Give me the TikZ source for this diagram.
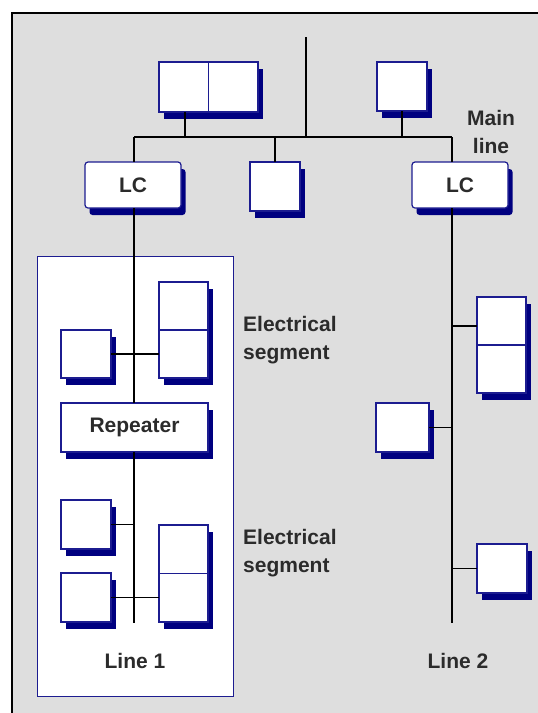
\documentclass[tikz,border=0pt]{standalone}
\usepackage{fontspec}
\setmainfont{Liberation Sans}
\usetikzlibrary{shadows,calc}
\definecolor{bg}{HTML}{DEDEDE}
\definecolor{navyb}{HTML}{000080}
\definecolor{edgeb}{HTML}{1C1C90}
\definecolor{txt}{HTML}{2B2B2B}
\tikzset{
  dev/.style={draw=edgeb, line width=1.2pt, fill=white, inner sep=0pt, outer sep=0pt,
    anchor=north west,
    drop shadow={shadow xshift=4.5pt, shadow yshift=-7pt, fill=navyb, opacity=1}},
  sq/.style={dev, minimum width=50pt, minimum height=49pt},
  vdbl/.style={dev, minimum width=49pt, minimum height=96pt},
  lcbox/.style={dev, rounded corners=3pt, minimum width=96pt, minimum height=46pt, lbl},
  lbl/.style={text=txt, font=\fontsize{21}{28}\selectfont\bfseries, inner sep=0pt},
  wire/.style={draw=black, line width=1.6pt},
  divider/.style={draw=edgeb, line width=1.2pt},
}
\begin{document}
\begin{tikzpicture}[x=1pt, y=-1pt]
\useasboundingbox (0,0) rectangle (538,713);
\clip (0,0) rectangle (538,713);
% frame
\draw[fill=bg, line width=1.6pt] (12,13) rectangle (570,750);
% line 1 container
\node[draw=edgeb, line width=1.2pt, fill=white, anchor=north west, inner sep=0pt,
      minimum width=196pt, minimum height=440pt] (l1box) at (37,256) {};

% main line devices
\node[dev, minimum width=99pt, minimum height=50pt] (td) at (159,62) {};
\draw[divider] (td.north) -- (td.south);
\node[sq] (ts) at (377,62) {};
\node[lcbox] (lc1) at (85,162) {LC};
\node[sq] (ms) at (250,162) {};
\node[lcbox] (lc2) at (412,162) {LC};

% line 1 devices
\node[vdbl] (ud) at (159,282) {};
\draw[divider] (ud.west) -- (ud.east);
\node[sq, minimum height=48pt] (us) at (61,330) {};
\node[dev, minimum width=147pt, minimum height=49pt, lbl] (rep) at (61,403) {Repeater};
\node[sq] (ls1) at (61,500) {};
\node[sq] (ls2) at (61,573) {};
\node[vdbl, minimum height=97pt] (ld) at (159,525) {};
\draw[divider] (ld.west) -- (ld.east);

% line 2 devices
\node[vdbl] (rd) at (477,297) {};
\draw[divider] (rd.west) -- (rd.east);
\node[dev, minimum width=53pt, minimum height=49pt] (rs) at (376,403) {};
\node[sq] (rb) at (477,544) {};

% coordinates
\coordinate (top) at (306,37);
\coordinate (busL) at (134,137);
\coordinate (busR) at (452,137);
\coordinate (jt) at (306,137);
\coordinate (j1) at (185,137);
\coordinate (j2) at (275,137);
\coordinate (j3) at (402,137);
\coordinate (l1end) at (134,623);
\coordinate (l2end) at (452,623);
\coordinate (k1) at (452,326);

% main line wiring
\draw[wire] (top) -- (jt);
\draw[wire] (busL) -- (busR);
\draw[wire] (busL) -- (busL |- lc1.north);
\draw[wire] (busR) -- (busR |- lc2.north);
\draw[wire] (j1) -- (j1 |- td.south);
\draw[wire] (j2) -- (j2 |- ms.north);
\draw[wire] (j3) -- (j3 |- ts.south);

% line 1 wiring
\draw[wire] (l1end |- lc1.south) -- (l1end |- rep.north);
\draw[wire] (l1end |- rep.south) -- (l1end);
\draw[wire] (us.east) -- (us.east -| ud.west);
\draw[wire] (ls1.east) -- (ls1.east -| l1end);
\draw[wire] (ls2.east) -- (ls2.east -| ld.west);

% line 2 wiring
\draw[wire] (l2end |- lc2.south) -- (l2end);
\draw[wire] (k1) -- (k1 -| rd.west);
\draw[wire] (rs.east) -- (rs.east -| l2end);
\draw[wire] (rb.west) -- (rb.west -| l2end);

% labels
\node[lbl, align=center] (mainline) at (491,132) {Main\\line};
\node[lbl, align=left, anchor=west] (seg1) at (243,340) {Electrical\\segment};
\node[lbl, align=left, anchor=west] (seg2) at (243,553) {Electrical\\segment};
\node[lbl] (line1) at (135,661) {Line 1};
\node[lbl] (line2) at (458,661) {Line 2};
\end{tikzpicture}
\end{document}
